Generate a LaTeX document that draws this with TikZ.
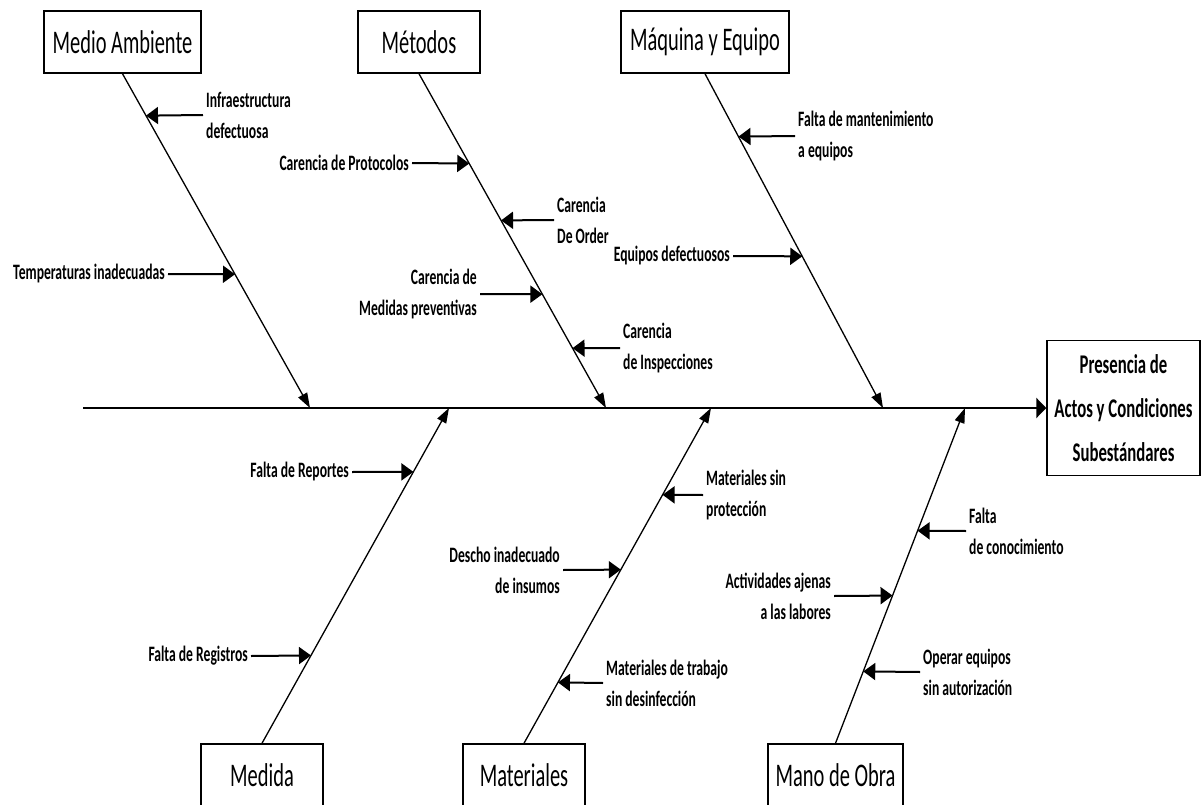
\documentclass[tikz,border=0pt]{standalone}
\usepackage{fontspec}
\setmainfont{Carlito}[FakeStretch=0.62]
\usetikzlibrary{arrows.meta,calc}

\begin{document}
\begin{tikzpicture}[x=1pt,y=-1pt,
  catbox/.style={draw, line width=1.5pt, minimum height=62pt, inner sep=0pt,
                 font=\fontsize{33}{40}\selectfont},
  lbl/.style={inner xsep=3pt, inner ysep=0pt, font=\fontsize{22}{31}\selectfont\bfseries},
  lbll/.style={lbl, align=left, anchor=west},
  lblr/.style={lbl, align=right, anchor=east},
  spine/.style={line width=2.5pt, -{Triangle[length=10pt,width=20pt]}},
  bone/.style={line width=1.3pt, -{Triangle[length=15pt,width=10pt]}},
  sub/.style={line width=2pt, -{Triangle[length=12pt,width=17pt]}},
]
\useasboundingbox (0,0) rectangle (1202,805);
\clip (0,0) rectangle (1202,805);

% category boxes
\node[catbox, minimum width=157pt] (ma) at (122.5,42) {Medio Ambiente};
\node[catbox, minimum width=122pt] (me) at (419,42) {Métodos};
\node[catbox, minimum width=168pt] (mq) at (705,42) {Máquina y Equipo};
\node[catbox, minimum width=122pt] (md) at (262,775) {Medida};
\node[catbox, minimum width=122pt] (mt) at (524,775) {Materiales};
\node[catbox, minimum width=135pt] (mo) at (835.5,775) {Mano de Obra};

% effect
\node[draw, line width=1.5pt, minimum width=153pt, minimum height=135pt, inner sep=0pt,
      align=center, font=\fontsize{27}{44}\selectfont\bfseries] (ef) at (1123.5,408)
      {Presencia de\\Actos y Condiciones\\Subestándares};

% spine
\coordinate (tail) at (83,408);
\draw[spine] (tail) -- (ef.west);

% points where the bones meet the spine
\coordinate (sma) at (310,408);
\coordinate (sme) at (606,408);
\coordinate (smq) at (883,408);
\coordinate (smd) at (449,408);
\coordinate (smt) at (711,408);
\coordinate (smo) at (965,408);

% bones
\draw[bone] (ma.south) -- (sma);
\draw[bone] (me.south) -- (sme);
\draw[bone] (mq.south) -- (smq);
\draw[bone] (md.north) -- (smd);
\draw[bone] (mt.north) -- (smt);
\draw[bone] (mo.north) -- (smo);

% points on the bones hit by the causes
\coordinate (t1)  at ($(ma.south)!{(115-73)/335}!(sma)$);
\coordinate (t2)  at ($(ma.south)!{(274-73)/335}!(sma)$);
\coordinate (t3)  at ($(me.south)!{(163-73)/335}!(sme)$);
\coordinate (t4)  at ($(me.south)!{(220-73)/335}!(sme)$);
\coordinate (t5)  at ($(me.south)!{(294-73)/335}!(sme)$);
\coordinate (t6)  at ($(me.south)!{(348-73)/335}!(sme)$);
\coordinate (t7)  at ($(mq.south)!{(136-73)/335}!(smq)$);
\coordinate (t8)  at ($(mq.south)!{(256-73)/335}!(smq)$);
\coordinate (t9)  at ($(md.north)!{(744-472)/336}!(smd)$);
\coordinate (t10) at ($(md.north)!{(744-656)/336}!(smd)$);
\coordinate (t11) at ($(mt.north)!{(744-495)/336}!(smt)$);
\coordinate (t12) at ($(mt.north)!{(744-570)/336}!(smt)$);
\coordinate (t13) at ($(mt.north)!{(744-683)/336}!(smt)$);
\coordinate (t14) at ($(mo.north)!{(744-531)/336}!(smo)$);
\coordinate (t15) at ($(mo.north)!{(744-596)/336}!(smo)$);
\coordinate (t16) at ($(mo.north)!{(744-672)/336}!(smo)$);

% causes
\node[lbll] (l1)  at (203,115) {Infraestructura\\defectuosa};
\node[lblr] (l2)  at (168,274) {Temperaturas inadecuadas};
\node[lblr] (l3)  at (412,163) {Carencia de Protocolos};
\node[lbll] (l4)  at (554,220) {Carencia\\De Order};
\node[lblr] (l5)  at (480,294) {Carencia de\\Medidas preventivas};
\node[lbll] (l6)  at (620,348) {Carencia\\de Inspecciones};
\node[lbll] (l7)  at (795,136) {Falta de mantenimiento\\a equipos};
\node[lblr] (l8)  at (733,256) {Equipos defectuosos};
\node[lblr] (l9)  at (352,472) {Falta de Reportes};
\node[lblr] (l10) at (251,656) {Falta de Registros};
\node[lbll] (l11) at (703,495) {Materiales sin\\protección};
\node[lblr] (l12) at (563,570) {Descho inadecuado\\de insumos};
\node[lbll] (l13) at (603,683) {Materiales de trabajo\\sin desinfección};
\node[lbll] (l14) at (966,531) {Falta\\de conocimiento};
\node[lblr] (l15) at (834,596) {Actividades ajenas\\a las labores};
\node[lbll] (l16) at (920,672) {Operar equipos\\sin autorización};

\draw[sub] (l1.west)  -- (t1);
\draw[sub] (l2.east)  -- (t2);
\draw[sub] (l3.east)  -- (t3);
\draw[sub] (l4.west)  -- (t4);
\draw[sub] (l5.east)  -- (t5);
\draw[sub] (l6.west)  -- (t6);
\draw[sub] (l7.west)  -- (t7);
\draw[sub] (l8.east)  -- (t8);
\draw[sub] (l9.east)  -- (t9);
\draw[sub] (l10.east) -- (t10);
\draw[sub] (l11.west) -- (t11);
\draw[sub] (l12.east) -- (t12);
\draw[sub] (l13.west) -- (t13);
\draw[sub] (l14.west) -- (t14);
\draw[sub] (l15.east) -- (t15);
\draw[sub] (l16.west) -- (t16);
\end{tikzpicture}
\end{document}
